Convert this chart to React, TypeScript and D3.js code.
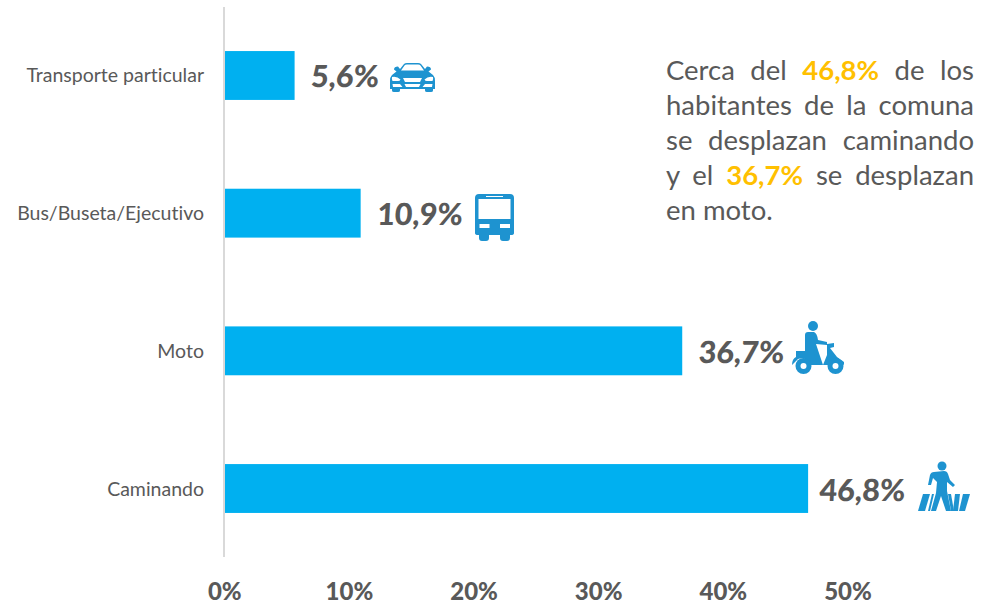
import React, { useEffect, useRef } from "react";
import * as d3 from "d3";

const categories = ["Transporte particular", "Bus/Buseta/Ejecutivo", "Moto", "Caminando"];
const values = [5.6, 10.9, 36.7, 46.8];
const valueLabels = ["5,6%", "10,9%", "36,7%", "46,8%"];
const ticks = [0, 10, 20, 30, 40, 50];
const noteLines: [string, boolean][][] = [
  [["Cerca del ", false], ["46,8%", true], [" de los", false]],
  [["habitantes de la comuna", false]],
  [["se desplazan caminando", false]],
  [["y el ", false], ["36,7%", true], [" se desplazan", false]],
  [["en moto.", false]],
];

const W = 981, H = 604;
const x = d3.scaleLinear().domain([0, 50]).range([224.8, 848]);
const y = d3.scaleBand().domain(categories).range([7, 557]).paddingInner(0.645).paddingOuter(0.32);
const FONT = "Lato, 'Open Sans', sans-serif";
const GREY = "#595959", ICON = "#1e93d0", BAR = "#00b0f0", GOLD = "#ffc000";

function Car() {
  return (
    <g transform="translate(390,63)" fill={ICON}>
      <path d="M10 6 L14 1 Q15 0 17 0 H28 Q30 0 31 1 L35 6 L37 3.500 Q41 3.500 41 6.500 L38.500 8.500 L43 12 Q45 14 45 18 V26 H43 V27.500 Q43 29 41 29 H37 Q35 29 35 27.500 V26 H10 V27.500 Q10 29 8 29 H4 Q2 29 2 27.500 V26 H0 V18 Q0 14 2 12 L6.500 8.500 L4 6.500 Q4 3.500 8 3.500 Z" />
      <path d="M11 7.500 L14.500 2.500 Q15 1.500 17 1.500 H28 Q30 1.500 30.500 2.500 L34 7.500 Z" fill="#fff" />
      <path d="M2 14 Q7 13 10.500 16.500 Q10 18 8 18 H2.500 Q1.500 16 2 14 Z M43 14 Q38 13 34.500 16.500 Q35 18 37 18 H42.500 Q43.500 16 43 14 Z" fill="#fff" />
      <path d="M13 15 H32 L30 19 H15 Z M2.500 21 H10 L12.500 24 H3 Z M42.500 21 H35 L32.500 24 H42 Z M14.500 21 H30.500 L29 24 H16 Z" fill="#fff" />
    </g>
  );
}

function Bus() {
  return (
    <g transform="translate(475,194)" fill={ICON}>
      <path d="M4 0 H35 Q39 0 39 4 V39 Q39 41 36 41 H35 V44 Q35 47 32 47 H28 Q25 47 25 44 V41 H14 V44 Q14 47 11 47 H7 Q4 47 4 44 V41 H3 Q0 41 0 39 V4 Q0 0 4 0 Z" />
      <rect x="3.500" y="5" width="32" height="20" fill="#fff" />
      <rect x="11" y="2" width="17" height="1" fill="#fff" />
      <rect x="4.500" y="30" width="10" height="4" fill="#fff" />
      <rect x="25" y="30" width="10" height="4" fill="#fff" />
    </g>
  );
}

function Moto() {
  return (
    <g transform="translate(792,321)" fill={ICON}>
      <circle cx="21" cy="5" r="5" />
      <path d="M13 14 Q13 11 16 11 H22 Q25 12 26 19 L35 21 L35 24 L24 23 L31 44 H24 L21 33 H13 Z" />
      <path d="M35 23 L42 22 L42 26 L38 27 L45 36 L52 41 L52 44 Q43 37 36 44 H31 L35 34 Z" />
      <path d="M4 30 H21 L25 44 H19 Q14 35 6 38 L0 44 Q0 38 4 36 Z" />
      <circle cx="11.500" cy="45" r="8" />
      <circle cx="11.500" cy="45" r="3" fill="#fff" />
      <circle cx="43.500" cy="45" r="8" />
      <circle cx="43.500" cy="45" r="3" fill="#fff" />
    </g>
  );
}

function Walker() {
  return (
    <g transform="translate(918,461)" fill={ICON}>
      <circle cx="24" cy="5" r="4.500" />
      <path d="M12 14 Q13 11 16 11 L26 10 Q29 10 30 13 L32 19 L37 24 L35 26 L29 21 L29 30 L33 50 H28 L23 35 L18 50 H13 L18 32 L19 21 L15 17 L13 24 H10 Z" />
      <path d="M5 33 H12 L7 50 H0 Z" />
      <path d="M14 33 H16 L12 50 H10 Z" />
      <path d="M30 33 H33 L36 50 H33 Z" />
      <path d="M37 33 H42 L40 50 H35 Z" />
      <path d="M45 33 H52 L47 50 H41 Z" />
    </g>
  );
}

const icons = [Car, Bus, Moto, Walker];
const noteX = 666, noteW = 308;

export default function App() {
  const noteRef = useRef<SVGGElement>(null);
  useEffect(() => {
    if (!noteRef.current) return;
    d3.select(noteRef.current)
      .selectAll<SVGTextElement, unknown>("text.justify")
      .each(function () {
        const s = d3.select(this);
        const text = this.textContent || "";
        const gaps = text.split(" ").length - 1;
        s.attr("word-spacing", (noteW - this.getComputedTextLength()) / gaps);
      });
  }, []);

  return (
    <svg width={W} height={H} style={{ position: "absolute", left: 0, top: 0, background: "#fff", fontVariantLigatures: "none" }} fontFamily={FONT}>
      {categories.map((c, i) => {
        const bw = x(values[i]) - x(0);
        const by = y(c)!;
        const Icon = icons[i];
        return (
          <g key={c}>
            <rect x={x(0)} y={by} width={bw} height={y.bandwidth()} fill={BAR} />
            <text x={204} y={by + y.bandwidth() / 2 + 7} textAnchor="end" fontSize={19.500} fill={GREY}>{c}</text>
            <text
              transform={`translate(${x(values[i]) + (i === 3 ? 11 : 16)},${by + y.bandwidth() / 2 + 12}) skewX(-3)`}
              fontSize={30.500} fontWeight={900} fill={GREY}
            >{valueLabels[i]}</text>
            <Icon />
          </g>
        );
      })}
      <line x1={224} x2={224} y1={7} y2={557} stroke="#d9d9d9" strokeWidth={2} />
      {ticks.map((t) => (
        <text key={t} x={x(t)} y={600} textAnchor="middle" fontSize={24} fontWeight={900} fill={GREY}>{t}%</text>
      ))}
      <g ref={noteRef}>
        {noteLines.map((line, i) => (
          <text key={i} className={i < 4 ? "justify" : undefined} x={noteX} y={80 + i * 35} fontSize={27.500} fill={GREY} style={{ whiteSpace: "pre" }}>
            {line.map(([t, hi], j) => (
              <tspan key={j} fill={hi ? GOLD : GREY} fontWeight={hi ? 700 : 400}>{t}</tspan>
            ))}
          </text>
        ))}
      </g>
    </svg>
  );
}
